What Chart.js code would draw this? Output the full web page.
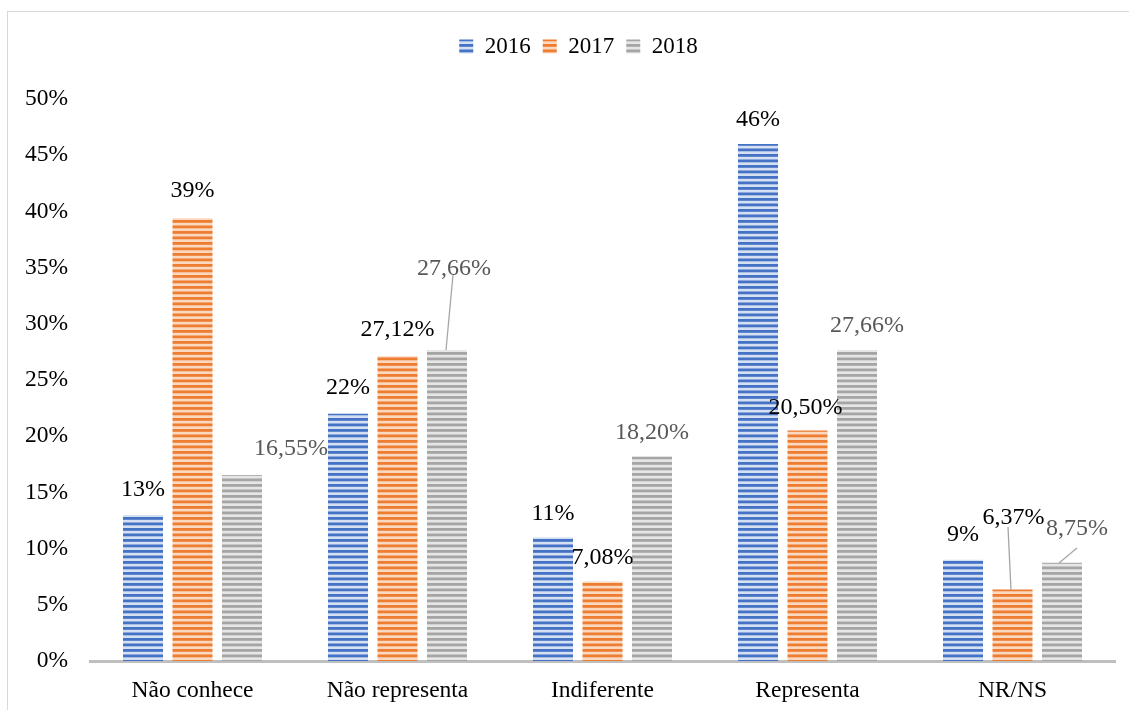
<!DOCTYPE html>
<html>
<head>
<meta charset="utf-8">
<script src="https://cdn.jsdelivr.net/npm/chart.js@4.4.1/dist/chart.umd.min.js"></script>
<style>
  html, body { margin: 0; padding: 0; background: #fff; }
  #wrap { width: 1129px; height: 710px; position: relative; }
</style>
</head>
<body>
<div id="wrap"><canvas id="chart"></canvas></div>
<script>
// chart data
var categories = ['Não conhece', 'Não representa', 'Indiferente', 'Representa', 'NR/NS'];
var years = ['2016', '2017', '2018'];
var values2016 = [13, 22, 11, 46, 9];
var values2017 = [39.4, 27.12, 7.08, 20.5, 6.37];
var values2018 = [16.55, 27.66, 18.2, 27.66, 8.75];
var labels2016 = ['13%', '22%', '11%', '46%', '9%'];
var labels2017 = ['39%', '27,12%', '7,08%', '20,50%', '6,37%'];
var labels2018 = ['16,55%', '27,66%', '18,20%', '27,66%', '8,75%'];
var yTicks = [0, 5, 10, 15, 20, 25, 30, 35, 40, 45, 50];

var serif = "'Liberation Serif', 'Times New Roman', serif";

// where each value label sits relative to the bar top, and which get a leader line
var labelOffsets = [
    [[0, -25], [0, -26], [0, -24], [0, -24], [0, -25]],
    [[0, -27], [0, -26], [0, -24], [-2, -23], [1, -72]],
    [[49, -26], [7, -81], [0, -24], [10, -24], [15, -34]]
];
var leaderLines = {
    '2-1': [[453, 275], [446, 350]],
    '1-4': [[1008, 527], [1011, 590]],
    '2-4': [[1077, 548], [1059, 563]]
};

function stripes(dark, light) {
    var c = document.createElement('canvas');
    c.width = 4; c.height = 11;
    var g = c.getContext('2d');
    g.fillStyle = light;
    g.fillRect(0, 0, 4, 11);
    g.fillStyle = dark;
    g.fillRect(0, 0, 4, 2.8);
    g.fillRect(0, 5.5, 4, 2.8);
    return g.createPattern(c, 'repeat');
}

var fills = [
    stripes('#4472C4', '#d6e0f3'),
    stripes('#ED7D31', '#fbd8c0'),
    stripes('#A5A5A5', '#e6e6e6')
];

var framePlugin = {
    id: 'frame',
    beforeLayout: function(chart) {
        var lg = chart.legend;
        if (lg && !lg._fixed) {
            var fit = lg.fit;
            lg.fit = function() { fit.call(this); this.height = 76; };
            lg._fixed = true;
        }
    },
    afterLayout: function(chart) {
        // legend sits a bit right of the plot centre in the original
        var lg = chart.legend;
        if (lg) { lg.left += 21; lg.right += 21; }
    },
    beforeDraw: function(chart) {
        var ctx = chart.ctx;
        ctx.save();
        ctx.fillStyle = '#fff';
        ctx.fillRect(0, 0, chart.width, chart.height);
        ctx.strokeStyle = '#d9d9d9';
        ctx.lineWidth = 1;
        ctx.strokeRect(7.5, 11.5, 1300, 1000);
        ctx.restore();
    }
};

var valueLabels = [labels2016, labels2017, labels2018];

var labelPlugin = {
    id: 'valueLabels',
    afterDatasetsDraw: function(chart) {
        var ctx = chart.ctx;
        ctx.save();
        ctx.font = '24px ' + serif;
        ctx.textAlign = 'center';
        ctx.textBaseline = 'middle';
        chart.data.datasets.forEach(function(ds, d) {
            var meta = chart.getDatasetMeta(d);
            meta.data.forEach(function(bar, i) {
                var key = d + '-' + i;
                if (leaderLines[key]) {
                    var l = leaderLines[key];
                    ctx.strokeStyle = '#a6a6a6';
                    ctx.lineWidth = 1.3;
                    ctx.beginPath();
                    ctx.moveTo(l[0][0], l[0][1]);
                    ctx.lineTo(l[1][0], l[1][1]);
                    ctx.stroke();
                }
                var off = labelOffsets[d][i];
                ctx.fillStyle = d === 2 ? '#595959' : '#000';
                ctx.fillText(valueLabels[d][i], bar.x + off[0], bar.y + off[1]);
            });
        });
        ctx.restore();
    }
};

var data = {
    labels: categories,
    datasets: [values2016, values2017, values2018].map(function(v, k) {
        return {
            label: years[k],
            data: v,
            backgroundColor: fills[k],
            borderWidth: 0,
            categoryPercentage: 0.7244,
            barPercentage: 0.808
        };
    })
};

new Chart(document.getElementById('chart'), {
    type: 'bar',
    data: data,
    plugins: [framePlugin, labelPlugin],
    options: {
        responsive: true,
        maintainAspectRatio: false,
        animation: false,
        layout: { padding: { top: 23, right: 14, bottom: 0, left: 0 } },
        plugins: {
            legend: {
                position: 'top',
                labels: {
                    font: { family: serif, size: 23 },
                    color: '#000',
                    boxWidth: 14,
                    boxHeight: 14,
                    padding: 12
                }
            },
            tooltip: { enabled: false }
        },
        scales: {
            x: {
                grid: { display: false, drawTicks: false },
                border: { color: '#bfbfbf', width: 3 },
                ticks: {
                    font: { family: serif, size: 23.5 },
                    color: '#000',
                    padding: 16
                },
                afterFit: function(s) { s.height = 49; }
            },
            y: {
                min: 0,
                max: 50,
                afterBuildTicks: function(s) {
                    s.ticks = yTicks.map(function(v) { return { value: v }; });
                },
                grid: { display: false, drawTicks: false },
                border: { display: false },
                ticks: {
                    font: { family: serif, size: 23.5 },
                    color: '#000',
                    padding: 22,
                    callback: function(v) { return v + '%'; }
                },
                afterFit: function(s) { s.width = 90; }
            }
        }
    }
});
</script>
</body>
</html>
